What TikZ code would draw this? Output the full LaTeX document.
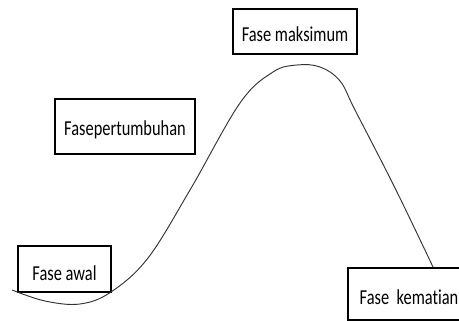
\documentclass[tikz,border=0pt]{standalone}
\usepackage{fontspec}
\setmainfont{Carlito}[Ligatures=NoCommon]
\usepackage{graphicx}
\usetikzlibrary{calc}
\def\fasetext#1{\scalebox{1}[1.3]{\fontsize{14}{16}\selectfont #1}}
\tikzset{fasebox/.style={draw=black, line width=1.2pt, fill=white, inner sep=0pt}}

\begin{document}
\begin{tikzpicture}[x=0.03cm, y=-0.03cm]
		%%%%% START %%%%%
		
		\useasboundingbox (0, 0) rectangle (459, 321);
		\clip (0, 0) rectangle (459, 321);
		
		\node[fasebox, minimum width=2.79cm, minimum height=1.38cm] (awal) at (64.5, 269) {};
		\node[fasebox, minimum width=4.2cm, minimum height=1.65cm] (tumbuh) at (125, 126.5) {};
		\node[fasebox, minimum width=3.72cm, minimum height=1.35cm] (maks) at (295, 31.5) {};
		\node[fasebox, minimum width=3.42cm, minimum height=1.56cm] (mati) at (405, 294) {};
		
		\draw[line width=0.8pt, color=black!80] plot[smooth, tension=0.6] coordinates {(12, 290) (45, 301) (80, 304) (111, 292) (148, 258) (190, 190) (240, 103) (273, 72) (297, 65) (320, 67) (340, 81) (355, 110) (395, 188) (433, 267)};
		
		\node at ($(awal)+(0, 4)$) {\fasetext{Fase awal}};
		\node at ($(tumbuh)+(0, 3)$) {\fasetext{Fasepertumbuhan}};
		\node at ($(maks)+(0, 3)$) {\fasetext{Fase maksimum}};
		\node at ($(mati)+(4, 3)$) {\fasetext{Fase\ \ kematian}};
		
		%%%%% END %%%%%
	\end{tikzpicture}
\end{document}
